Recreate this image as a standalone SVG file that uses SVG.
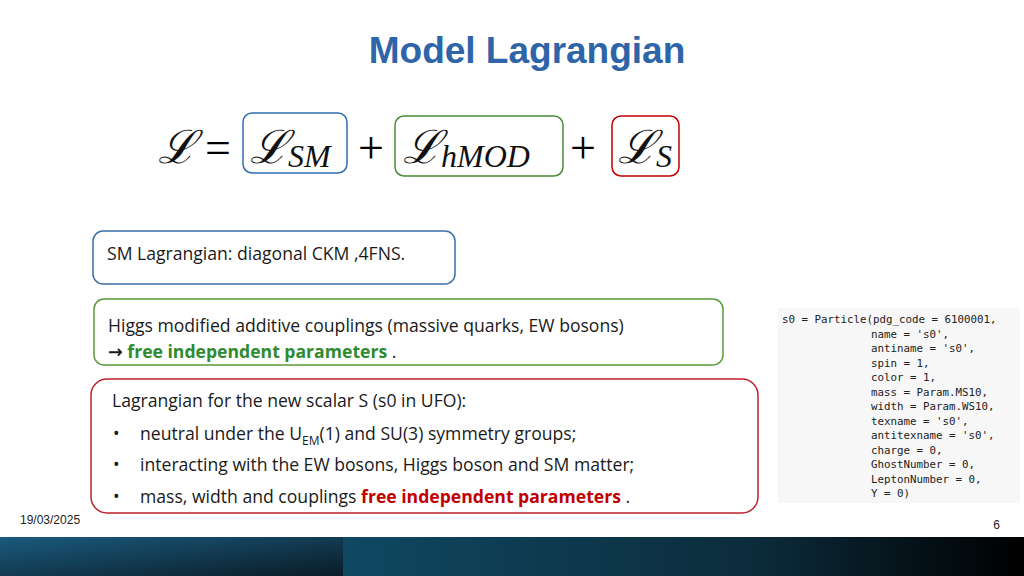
<svg xmlns="http://www.w3.org/2000/svg" width="1024" height="576" viewBox="0 0 1024 576">
<defs>
<style>
.t{font-family:"Open Sans","Liberation Sans",Arial,sans-serif;font-size:17.6px;fill:#1a1a1a}
.m{font-family:"Liberation Serif","DejaVu Serif",serif;font-style:italic;fill:#111}
.c{font-family:"DejaVu Sans Mono","Liberation Mono",monospace;font-size:10.8px;fill:#222}
.box{fill:#fff;stroke-width:1.5}
</style>
<linearGradient id="g1" x1="0" y1="0" x2="1" y2="1"><stop offset="0" stop-color="#1a5a7e"/><stop offset="1" stop-color="#0a1c26"/></linearGradient>
<linearGradient id="g2" x1="0" y1="0" x2="1" y2="0"><stop offset="0" stop-color="#0f4862"/><stop offset="0.6" stop-color="#0c2c3c"/><stop offset="1" stop-color="#000"/></linearGradient>
</defs>
<rect width="1024" height="576" fill="#fff"/>
<text x="527" y="63" text-anchor="middle" style="font-family:'Liberation Sans',Arial,sans-serif;font-weight:bold;font-size:37px;fill:#2e64a8">Model Lagrangian</text>
<g id="equation">
<rect x="243" y="113" width="104" height="60" rx="9" fill="none" stroke="#2e6fb0" stroke-width="1.5"/>
<rect x="395" y="116" width="168" height="60" rx="9" fill="none" stroke="#4a8a3a" stroke-width="1.5"/>
<rect x="612" y="116" width="67" height="60" rx="9" fill="none" stroke="#c00000" stroke-width="1.5"/>
<text class="m" x="158" y="163" font-size="46">ℒ</text>
<text x="205" y="163" font-size="46" style="font-family:'Liberation Serif',serif">=</text>
<text class="m" x="250" y="163" font-size="46">ℒ<tspan font-size="32" dy="4">SM</tspan></text>
<text x="358" y="163" font-size="46" style="font-family:'Liberation Serif',serif">+</text>
<text class="m" x="403" y="163" font-size="46">ℒ<tspan font-size="32" dy="4">hMOD</tspan></text>
<text x="570" y="163" font-size="46" style="font-family:'Liberation Serif',serif">+</text>
<text class="m" x="618" y="163" font-size="46">ℒ<tspan font-size="32" dy="4">S</tspan></text>
</g>
<g id="sm">
<rect class="box" x="93" y="231" width="362" height="53" rx="10" stroke="#3a6ea8"/>
<text class="t" x="107" y="260">SM Lagrangian: diagonal CKM ,4FNS.</text>
</g>
<g id="hmod">
<rect class="box" x="94" y="299" width="629" height="66" rx="10" stroke="#5a9a3a"/>
<text class="t" x="108" y="332">Higgs modified  additive couplings (massive quarks, EW bosons)</text>
<text class="t" x="108" y="358"><tspan font-weight="bold" style="font-family:'DejaVu Sans',sans-serif">→</tspan> <tspan font-weight="bold" fill="#2e8b2e">free independent parameters</tspan> .</text>
</g>
<g id="scalar">
<rect class="box" x="91" y="379" width="667" height="134" rx="16" stroke="#c0202a"/>
<text class="t" x="112" y="407">Lagrangian for the new scalar S (s0 in UFO):</text>
<text class="t" x="113" y="440">•</text><text class="t" x="140" y="440">neutral under the U<tspan font-size="12" dy="5">EM</tspan><tspan dy="-5">(1) and SU(3) symmetry groups;</tspan></text>
<text class="t" x="113" y="471">•</text><text class="t" x="140" y="471">interacting with the EW bosons,  Higgs boson and SM matter;</text>
<text class="t" x="113" y="503">•</text><text class="t" x="140" y="503">mass, width and couplings <tspan font-weight="bold" fill="#c00000">free independent parameters</tspan> .</text>
</g>
<g id="code">
<rect x="778" y="308" width="242" height="195" fill="#f7f7f7"/>
<text class="c" x="782" y="323">s0 = Particle(pdg_code = 6100001,</text>
<text class="c" x="871" y="338">name = 's0',</text>
<text class="c" x="871" y="352">antiname = 's0',</text>
<text class="c" x="871" y="367">spin = 1,</text>
<text class="c" x="871" y="381">color = 1,</text>
<text class="c" x="871" y="396">mass = Param.MS10,</text>
<text class="c" x="871" y="410">width = Param.WS10,</text>
<text class="c" x="871" y="425">texname = 's0',</text>
<text class="c" x="871" y="439">antitexname = 's0',</text>
<text class="c" x="871" y="454">charge = 0,</text>
<text class="c" x="871" y="468">GhostNumber = 0,</text>
<text class="c" x="871" y="483">LeptonNumber = 0,</text>
<text class="c" x="871" y="497">Y = 0)</text>
</g>
<text x="20" y="524" style="font-family:'Liberation Sans',Arial,sans-serif;font-size:12px;fill:#222">19/03/2025</text>
<text x="1000" y="529" text-anchor="end" style="font-family:'Liberation Sans',Arial,sans-serif;font-size:12px;fill:#222">6</text>
<rect x="0" y="537" width="343" height="39" fill="url(#g1)"/>
<rect x="343" y="537" width="681" height="39" fill="url(#g2)"/>
</svg>
